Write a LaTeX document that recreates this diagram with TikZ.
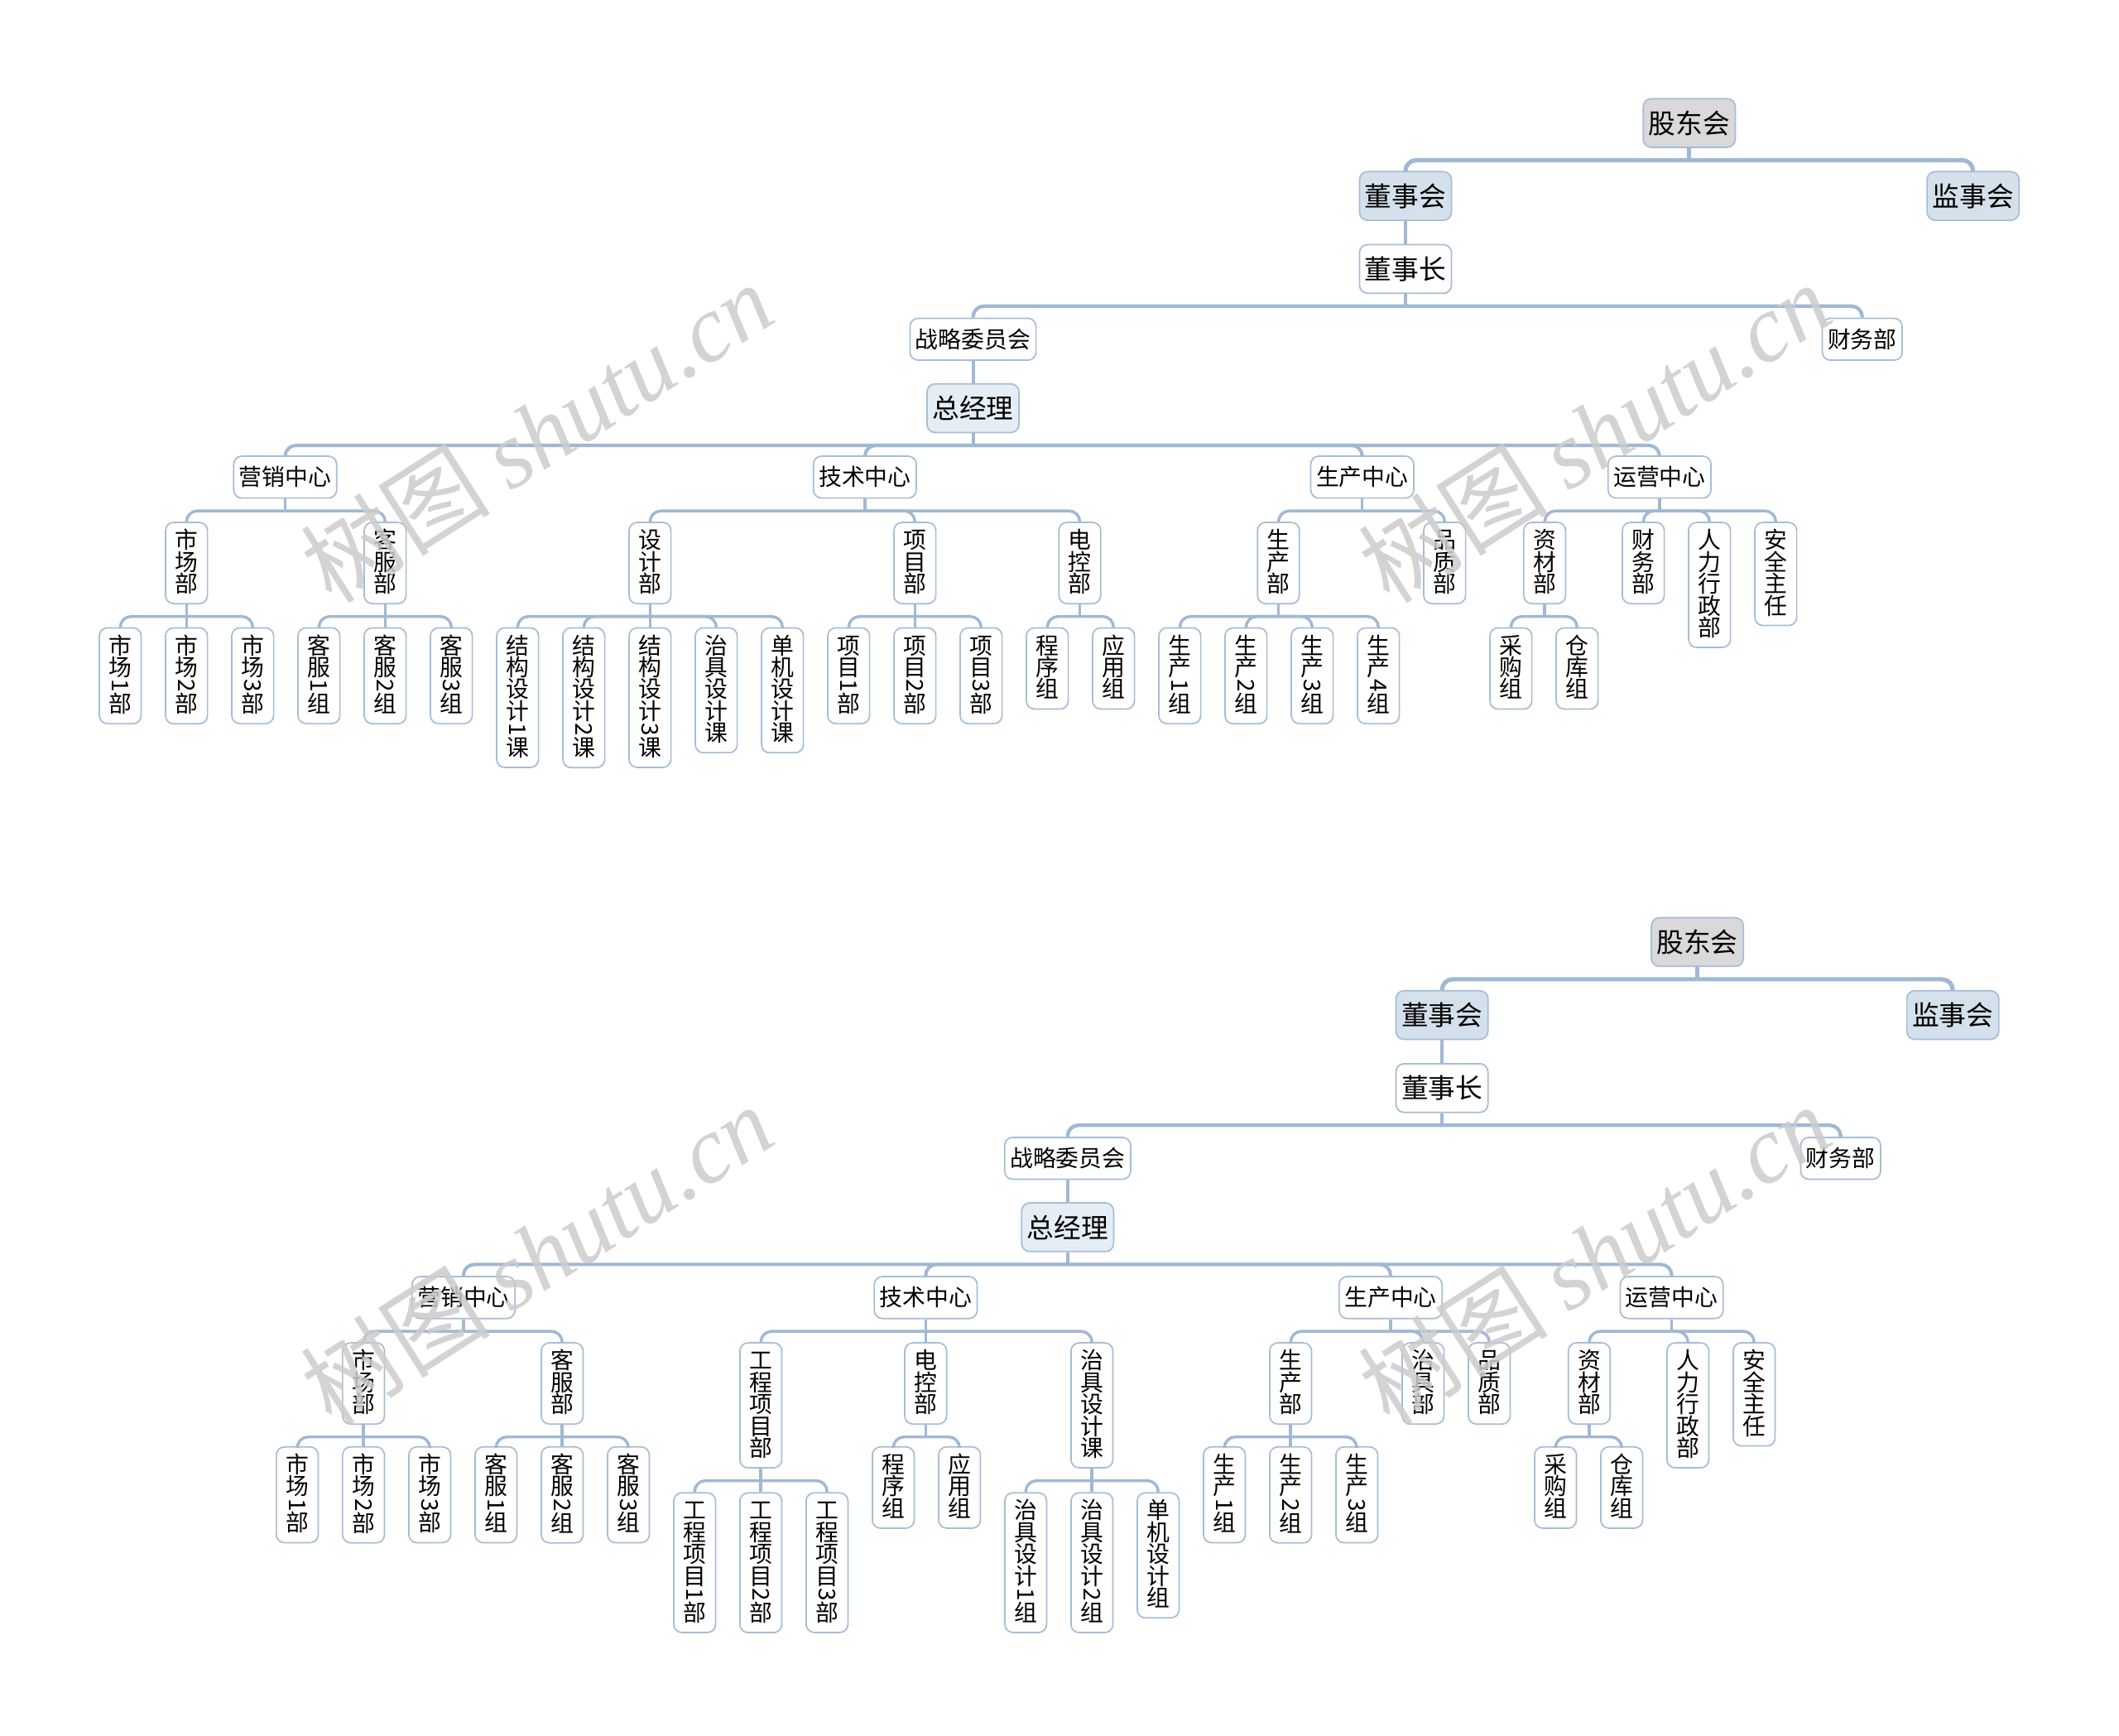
\documentclass[tikz,border=0pt]{standalone}
\usepackage{fontspec}
\usepackage{graphicx}
\newfontfamily\cjk{Noto Sans CJK SC}
\newfontfamily\wmfont{Liberation Serif}
\definecolor{xian}{RGB}{160,184,211}
\definecolor{bian}{RGB}{166,189,214}
\definecolor{hui}{RGB}{217,217,217}
\definecolor{lan}{RGB}{212,225,236}
\definecolor{qianlan}{RGB}{229,237,245}
% 竖排文字：汉字直排，数字转90度
\def\shu#1{\vbox{\baselineskip=0pt\lineskip=0pt\lineskiplimit=0pt\expandafter\shuloop#1\relax}}
\def\shuloop#1{\ifx#1\relax\else\shuzi{#1}\expandafter\shuloop\fi}
\def\shuzi#1{\ifnum`#1<128 \hbox to 1em{\hss\rotatebox[origin=c]{-90}{#1}\hss}\else\hbox to 1em{\hss\vrule height .8em depth .15em width 0pt\smash{#1}\hss}\fi}

\begin{document}
\begin{tikzpicture}[x=0.02cm, y=-0.02cm,
  box/.style={draw=bian, line width=0.6pt, rounded corners=0.12cm, fill=white, inner sep=0pt},
  hnode/.style={box, font=\cjk\fontsize{9.7}{11}\selectfont, inner xsep=0.08cm, minimum height=0.62cm},
  big/.style={box, font=\cjk\fontsize{11.4}{13}\selectfont, inner xsep=0.08cm, minimum height=0.72cm},
  vnode/.style={box, anchor=north, font=\cjk\fontsize{9.7}{11}\selectfont, minimum width=0.62cm, inner ysep=0.115cm},
  link/.style={draw=xian, line width=1.2pt},
  wm/.style={text=black!20, opacity=0.85, font=\fontsize{40}{40}\selectfont}]
\path[fill=white, use as bounding box] (0,0) rectangle (1568,1284);

%上
\node[big, fill=hui] (Agdh) at (1250,91) {股东会};
\node[big, fill=lan] (Adsh) at (1040,145) {董事会};
\node[big, fill=lan] (Ajsh) at (1460,145) {监事会};
\node[big] (Adsz) at (1040,199) {董事长};
\node[hnode] (Azlw) at (720,251) {战略委员会};
\node[hnode] (Acw) at (1378,251) {财务部};
\node[big, fill=qianlan] (Azjl) at (720,302) {总经理};
\node[hnode] (Ayx) at (211,353) {营销中心};
\node[hnode] (Ajs) at (640,353) {技术中心};
\node[hnode] (Asc) at (1008,353) {生产中心};
\node[hnode] (Ayy) at (1228,353) {运营中心};
\foreach \n/\x/\txt in {Ashc/138/市场部, Akf/285/客服部, Asj/481/设计部, Axm/677/项目部,
    Adk/799/电控部, Ascb/946/生产部, Apz/1069/品质部, Azc/1143/资材部,
    Acw2/1216/财务部, Arl/1265/人力行政部, Aaq/1314/安全主任}
  \node[vnode] (\n) at (\x,386) {\shu{\txt}};
\foreach \n/\x/\txt in {Ashc1/89/市场1部, Ashc2/138/市场2部, Ashc3/187/市场3部,
    Akf1/236/客服1组, Akf2/285/客服2组, Akf3/334/客服3组,
    Asj1/383/结构设计1课, Asj2/432/结构设计2课, Asj3/481/结构设计3课, Asj4/530/治具设计课, Asj5/579/单机设计课,
    Axm1/628/项目1部, Axm2/677/项目2部, Axm3/726/项目3部, Adk1/775/程序组, Adk2/824/应用组,
    Ascb1/873/生产1组, Ascb2/922/生产2组, Ascb3/971/生产3组, Ascb4/1020/生产4组,
    Azc1/1118/采购组, Azc2/1167/仓库组}
  \node[vnode] (\n) at (\x,464) {\shu{\txt}};

%下
\node[big, fill=hui] (Bgdh) at (1256,697) {股东会};
\node[big, fill=lan] (Bdsh) at (1067,751) {董事会};
\node[big, fill=lan] (Bjsh) at (1445,751) {监事会};
\node[big] (Bdsz) at (1067,805) {董事长};
\node[hnode] (Bzlw) at (790,857) {战略委员会};
\node[hnode] (Bcw) at (1362,857) {财务部};
\node[big, fill=qianlan] (Bzjl) at (790,908) {总经理};
\node[hnode] (Byx) at (343,960) {营销中心};
\node[hnode] (Bjs) at (685,960) {技术中心};
\node[hnode] (Bsc) at (1029,960) {生产中心};
\node[hnode] (Byy) at (1237,960) {运营中心};
\foreach \n/\x/\txt in {Bshc/269/市场部, Bkf/416/客服部, Bgc/563/工程项目部, Bdk/685/电控部,
    Bzj/808/治具设计课, Bscb/955/生产部, Bzjb/1053/治具部, Bpz/1102/品质部,
    Bzc/1176/资材部, Brl/1249/人力行政部, Baq/1298/安全主任}
  \node[vnode] (\n) at (\x,993) {\shu{\txt}};
\foreach \n/\x/\txt in {Bshc1/220/市场1部, Bshc2/269/市场2部, Bshc3/318/市场3部,
    Bkf1/367/客服1组, Bkf2/416/客服2组, Bkf3/465/客服3组,
    Bdk1/661/程序组, Bdk2/710/应用组,
    Bscb1/906/生产1组, Bscb2/955/生产2组, Bscb3/1004/生产3组,
    Bzc1/1151/采购组, Bzc2/1200/仓库组}
  \node[vnode] (\n) at (\x,1070) {\shu{\txt}};
\foreach \n/\x/\txt in {Bgc1/514/工程项目1部, Bgc2/563/工程项目2部, Bgc3/612/工程项目3部,
    Bzj1/759/治具设计1组, Bzj2/808/治具设计2组, Bzj3/857/单机设计组}
  \node[vnode] (\n) at (\x,1104) {\shu{\txt}};

%连线
\foreach \p/\cs/\w in {Agdh/{Adsh,Ajsh}/1.8pt, Adsz/{Azlw,Acw}/1.5pt, Azjl/{Ayx,Ajs,Asc,Ayy}/1.4pt,
    Ayx/{Ashc,Akf}/1.2pt, Ajs/{Asj,Axm,Adk}/1.2pt, Asc/{Ascb,Apz}/1.2pt, Ayy/{Azc,Acw2,Arl,Aaq}/1.2pt,
    Ashc/{Ashc1,Ashc3}/1.2pt, Akf/{Akf1,Akf3}/1.2pt, Asj/{Asj1,Asj2,Asj4,Asj5}/1.2pt, Axm/{Axm1,Axm3}/1.2pt,
    Adk/{Adk1,Adk2}/1.2pt, Ascb/{Ascb1,Ascb2,Ascb3,Ascb4}/1.2pt, Azc/{Azc1,Azc2}/1.2pt,
    Bgdh/{Bdsh,Bjsh}/1.8pt, Bdsz/{Bzlw,Bcw}/1.5pt, Bzjl/{Byx,Bjs,Bsc,Byy}/1.4pt,
    Byx/{Bshc,Bkf}/1.2pt, Bjs/{Bgc,Bzj}/1.2pt, Bsc/{Bscb,Bzjb,Bpz}/1.2pt, Byy/{Bzc,Brl,Baq}/1.2pt,
    Bshc/{Bshc1,Bshc3}/1.2pt, Bkf/{Bkf1,Bkf3}/1.2pt, Bgc/{Bgc1,Bgc3}/1.2pt, Bdk/{Bdk1,Bdk2}/1.2pt,
    Bzj/{Bzj1,Bzj3}/1.2pt, Bscb/{Bscb1,Bscb3}/1.2pt, Bzc/{Bzc1,Bzc2}/1.2pt}{
  \draw[link, line width=\w] (\p.south) -- ++(0,9) coordinate (j);
  \foreach \c in \cs
    \draw[link, line width=\w, rounded corners=0.16cm] (j) -| (\c.north);
}
\foreach \p/\c/\w in {Adsh/Adsz/1.4pt, Azlw/Azjl/1.4pt, Ashc/Ashc2/1.2pt, Akf/Akf2/1.2pt, Asj/Asj3/1.2pt,
    Axm/Axm2/1.2pt, Bdsh/Bdsz/1.4pt, Bzlw/Bzjl/1.4pt, Bjs/Bdk/1.2pt, Bshc/Bshc2/1.2pt, Bkf/Bkf2/1.2pt,
    Bgc/Bgc2/1.2pt, Bzj/Bzj2/1.2pt, Bscb/Bscb2/1.2pt}
  \draw[link, line width=\w] (\p.south) -- (\c.north);

%水印
\node[wm, rotate=32.5] (wm1) at (397,320) {\cjk 树图 \wmfont\itshape shutu.cn};
\node[wm, rotate=32.5] (wm2) at (1180,320) {\cjk 树图 \wmfont\itshape shutu.cn};
\node[wm, rotate=32.5] (wm3) at (397,928) {\cjk 树图 \wmfont\itshape shutu.cn};
\node[wm, rotate=32.5] (wm4) at (1180,928) {\cjk 树图 \wmfont\itshape shutu.cn};
\end{tikzpicture}
\end{document}
